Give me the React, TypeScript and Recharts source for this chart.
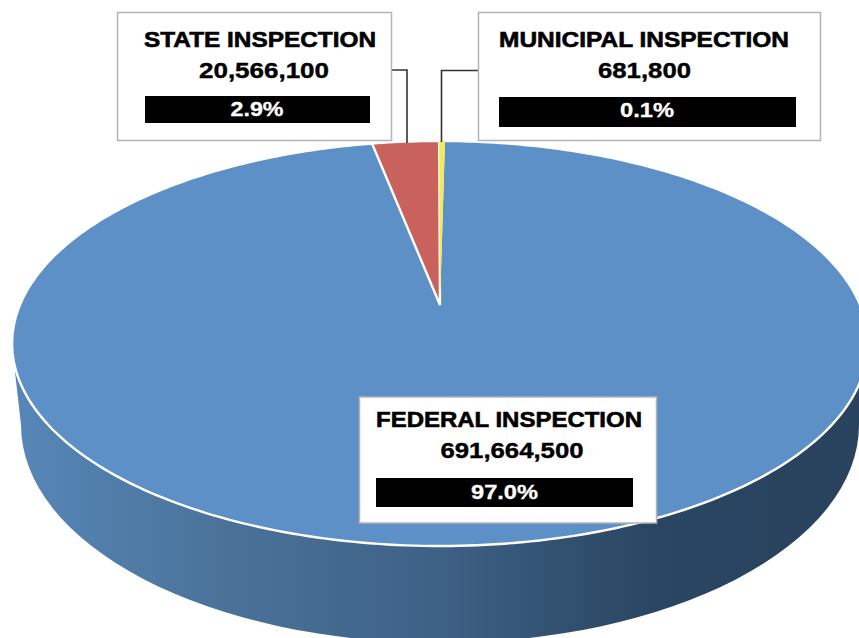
import { PieChart, Pie } from 'recharts';

const SLICE_NAMES = ['FEDERAL INSPECTION', 'STATE INSPECTION', 'MUNICIPAL INSPECTION'];
const SLICE_VALUES = [691664500, 20566100, 681800];
const SLICE_PERCENTS = ['97.0%', '2.9%', '0.1%'];
const SLICE_COLORS = ['#5c90c6', '#c9625c', '#f4e85c'];

// where each callout box sits on the page, the reference type is stretched so widths are set too
const BOXES = [
  { x: 359.5, y: 397, w: 297, h: 126, titleX: 509, titleY: 427, titleW: 266, valueX: 512, valueY: 458, valueW: 143, barX: 376, barY: 478, barW: 257, barH: 29, pctX: 504.5, pctY: 499, pctW: 67 },
  { x: 117.5, y: 12.5, w: 274, h: 128, titleX: 260, titleY: 47, titleW: 232, valueX: 264, valueY: 78, valueW: 130, barX: 145, barY: 96, barW: 225, barH: 27, pctX: 257, pctY: 116, pctW: 53 },
  { x: 478.5, y: 12.5, w: 342, h: 128, titleX: 644, titleY: 47, titleW: 290, valueX: 644.5, valueY: 78, valueW: 93, barX: 499, barY: 97, barW: 297, barH: 30, pctX: 647, pctY: 117, pctW: 54 },
];
const LEADERS = [null, 'M392 70 H407 V143', 'M478 70.5 H441.5 V142'];

const chartData = SLICE_NAMES.map((name, i) => ({ name, value: SLICE_VALUES[i], fill: SLICE_COLORS[i] }));

// perspective of the tilted disc
const TILT = 0.19;
const WIDTH_RATIO = 2.152;

function rimPoint(cx: number, cy: number, r: number, deg: number) {
  const a = (deg * Math.PI) / 180;
  const w = 1 + TILT * Math.sin(a);
  return [cx + (r * WIDTH_RATIO * Math.cos(a)) / w, cy - (r * Math.sin(a)) / w];
}

function rimPath(cx: number, cy: number, r: number, start: number, end: number) {
  const steps = Math.ceil(Math.abs(end - start)) + 1;
  const pts = [];
  for (let i = 0; i <= steps; i++) {
    const p = rimPoint(cx, cy, r, start + ((end - start) * i) / steps);
    pts.push(`${p[0].toFixed(2)} ${p[1].toFixed(2)}`);
  }
  return pts.join(' L');
}

function TopSlice(props: any) {
  const { cx, cy, outerRadius, startAngle, endAngle, fill, name } = props;
  const rim = rimPath(cx, cy, outerRadius, startAngle, endAngle);
  const whole = `M${cx} ${cy} L${rim} Z`;
  const idx = SLICE_NAMES.indexOf(name);
  return (
    <g>
      <path d={whole} fill={fill} stroke="none" />
      {idx === 0 && <path d={`M${rim}`} fill="none" stroke="#fff" strokeWidth={2.4} />}
      {idx === 1 && <path d={whole} fill="none" stroke="#fff" strokeWidth={2.4} />}
    </g>
  );
}

// side wall, only the big slice shows it from this angle
function WallSlice(props: any) {
  if (props.name !== SLICE_NAMES[0]) return <g />;
  return <path d="M15 372 L21 425 A419 218 0 0 0 859 425 L859 380 Z" fill="url(#wallFill)" stroke="none" />;
}

function Callout(props: any) {
  const i = SLICE_NAMES.indexOf(props.name);
  const b = BOXES[i];
  const font = { fontFamily: '"Liberation Sans", Arial, sans-serif', fontWeight: 700, textAnchor: 'middle' as const, lengthAdjust: 'spacingAndGlyphs' as const };
  return (
    <g>
      {LEADERS[i] && <path d={LEADERS[i]} fill="none" stroke="#333" strokeWidth={1.6} />}
      <rect x={b.x} y={b.y} width={b.w} height={b.h} fill="#fff" stroke="#b5b5b5" strokeWidth={1.5} />
      <text x={b.titleX} y={b.titleY} fontSize={22} fill="#000" stroke="#000" strokeWidth={0.6} textLength={b.titleW} {...font}>{SLICE_NAMES[i]}</text>
      <text x={b.valueX} y={b.valueY} fontSize={22} fill="#000" stroke="#000" strokeWidth={0.4} textLength={b.valueW} {...font}>{SLICE_VALUES[i].toLocaleString('en-US')}</text>
      <rect x={b.barX} y={b.barY} width={b.barW} height={b.barH} fill="#000" />
      <text x={b.pctX} y={b.pctY} fontSize={20} fill="#fff" stroke="#fff" strokeWidth={0.3} textLength={b.pctW} {...font}>{SLICE_PERCENTS[i]}</text>
    </g>
  );
}

export default function App() {
  return (
    <div style={{ position: 'absolute', left: 0, top: 0, width: 859, height: 638, overflow: 'hidden', background: '#fff' }}>
      <PieChart width={859} height={638} margin={{ top: 0, right: 0, bottom: 0, left: 0 }}>
        <defs>
          <linearGradient id="wallFill" gradientUnits="userSpaceOnUse" x1={15} y1={0} x2={859} y2={0}>
            <stop offset="0%" stopColor="#5787b8" />
            <stop offset="12%" stopColor="#507da8" />
            <stop offset="25%" stopColor="#4a7299" />
            <stop offset="50%" stopColor="#3e6186" />
            <stop offset="75%" stopColor="#2a4662" />
            <stop offset="100%" stopColor="#29425e" />
          </linearGradient>
        </defs>
        <Pie
          data={chartData}
          dataKey="value"
          nameKey="name"
          cx={440}
          cy={305}
          outerRadius={195.2}
          startAngle={89.19}
          endAngle={-270.81}
          minAngle={0.6}
          shape={WallSlice}
          stroke="none"
          isAnimationActive={false}
        />
        <Pie
          data={chartData}
          dataKey="value"
          nameKey="name"
          cx={440}
          cy={305}
          outerRadius={195.2}
          startAngle={89.19}
          endAngle={-270.81}
          minAngle={0.6}
          shape={TopSlice}
          stroke="none"
          label={Callout}
          labelLine={false}
          isAnimationActive={false}
        />
      </PieChart>
    </div>
  );
}
